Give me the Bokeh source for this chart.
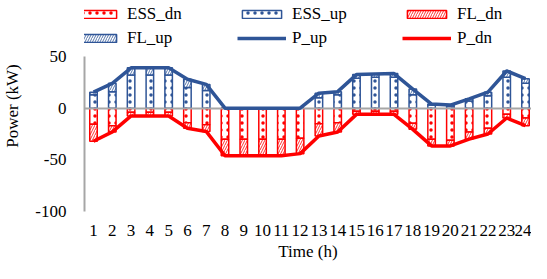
from bokeh.plotting import figure
from bokeh.models import Legend, LegendItem, FixedTicker, ColumnDataSource, Range1d
from bokeh.embed import file_html
from bokeh.resources import INLINE

# ---- data ----
hours = list(range(1, 25))
ess_up = [13, 16, 32, 32, 32, 20, 17, 0, 0, 0, 0, 0, 10, 13, 29, 30, 30, 13, 3, 2, 7, 12, 30, 24]
fl_up = [2.5, 8, 7, 7, 7, 8, 6, 0, 0, 0, 0, 0, 4.5, 3, 3.5, 3, 3.5, 5.5, 1, 1, 2, 3.5, 6, 4.5]
ess_dn = [-15.5, -17, -4, -4, -4, -14, -16, -30, -30, -30, -30, -29, -15, -14, -3, -3, -3, -14.5, -30, -31, -23, -19.5, -6, -9.5]
fl_dn = [-16.5, -6, -3.5, -3.5, -3.5, -5.5, -6.5, -16, -16, -16, -16, -15, -12, -9, -3, -3, -3, -6, -6.5, -5.5, -7, -5.5, -3.5, -7.5]
y_ticks = [-100, -50, 0, 50]
y_tick_labels = ["-100", "-50", "0", "50"]

p_up = [a + b for a, b in zip(ess_up, fl_up)]
p_dn = [a + b for a, b in zip(ess_dn, fl_dn)]

src = ColumnDataSource(dict(
    x=hours,
    ess_up=ess_up, p_up=p_up,
    ess_dn=ess_dn, p_dn=p_dn,
    zero=[0] * len(hours),
))

BLUE = "#2F5597"
RED = "#FF0000"
GRAY = "#A6A6A6"
FONT = "'Liberation Serif', 'Times New Roman', serif"
FS = "17px"

# the frame is extended above the value axis to hold the legend
p = figure(width=531, height=263, output_backend="svg", toolbar_location=None,
           x_range=Range1d(0.52, 24.32), y_range=Range1d(-100, 104.2),
           min_border_left=82, min_border_right=0, min_border_top=0, min_border_bottom=52)
p.outline_line_color = None
p.grid.visible = False
p.background_fill_color = "white"
p.border_fill_color = "white"

W = 0.4
bar_kw = dict(fill_color="white", line_width=1.5)
r_ess_dn = p.vbar(x="x", bottom="zero", top="ess_dn", width=W, source=src, line_color=RED,
                  hatch_pattern="dot", hatch_color=RED, hatch_scale=7, hatch_weight=1.5, **bar_kw)
r_fl_dn = p.vbar(x="x", bottom="ess_dn", top="p_dn", width=W, source=src, line_color=RED,
                 hatch_pattern="/", hatch_color=RED, hatch_scale=5, hatch_weight=0.8, **bar_kw)
r_ess_up = p.vbar(x="x", bottom="zero", top="ess_up", width=W, source=src, line_color=BLUE,
                  hatch_pattern="dot", hatch_color=BLUE, hatch_scale=7, hatch_weight=1.5, **bar_kw)
r_fl_up = p.vbar(x="x", bottom="ess_up", top="p_up", width=W, source=src, line_color=BLUE,
                 hatch_pattern="/", hatch_color=BLUE, hatch_scale=5, hatch_weight=0.8, **bar_kw)

p.hspan(y=[0], line_color=GRAY, line_width=2)

r_p_up = p.line(x="x", y="p_up", source=src, line_color=BLUE, line_width=3.5, line_join="round")
r_p_dn = p.line(x="x", y="p_dn", source=src, line_color=RED, line_width=3.5, line_join="round")

# axes
p.xaxis.ticker = FixedTicker(ticks=hours)
p.xaxis.axis_line_color = None
p.xaxis.major_tick_line_color = None
p.xaxis.minor_tick_line_color = None
p.xaxis.major_label_standoff = 7
p.xaxis.axis_label = "Time (h)"
p.xaxis.axis_label_standoff = 3

p.yaxis.ticker = FixedTicker(ticks=y_ticks)
p.yaxis.bounds = (-100, 50)
p.yaxis.major_label_overrides = dict(zip(y_ticks, y_tick_labels))
p.yaxis.axis_line_color = GRAY
p.yaxis.axis_line_width = 2
p.yaxis.major_tick_line_color = None
p.yaxis.minor_tick_line_color = None
p.yaxis.major_label_standoff = 12
p.yaxis.axis_label = "Power (kW)"
p.yaxis.axis_label_standoff = 10

for ax in (p.xaxis, p.yaxis):
    ax.major_label_text_font = FONT
    ax.major_label_text_font_size = FS
    ax.major_label_text_color = "black"
    ax.axis_label_text_font = FONT
    ax.axis_label_text_font_size = FS
    ax.axis_label_text_font_style = "normal"
    ax.axis_label_text_color = "black"

legend = Legend(items=[
    LegendItem(label="ESS_dn", renderers=[r_ess_dn]),
    LegendItem(label="ESS_up", renderers=[r_ess_up]),
    LegendItem(label="FL_dn", renderers=[r_fl_dn]),
    LegendItem(label="FL_up", renderers=[r_fl_up]),
    LegendItem(label="P_up", renderers=[r_p_up]),
    LegendItem(label="P_dn", renderers=[r_p_dn]),
], orientation="horizontal", ncols=3, location=(-12, 163),
    label_text_font=FONT, label_text_font_size=FS, label_text_color="black",
    glyph_width=49, glyph_height=10, label_standoff=6, label_width=106, label_height=20,
    spacing=4, padding=0, margin=0, border_line_color=None, background_fill_alpha=0)
p.add_layout(legend, "center")

open("out.html", "w").write(file_html(p, INLINE))
